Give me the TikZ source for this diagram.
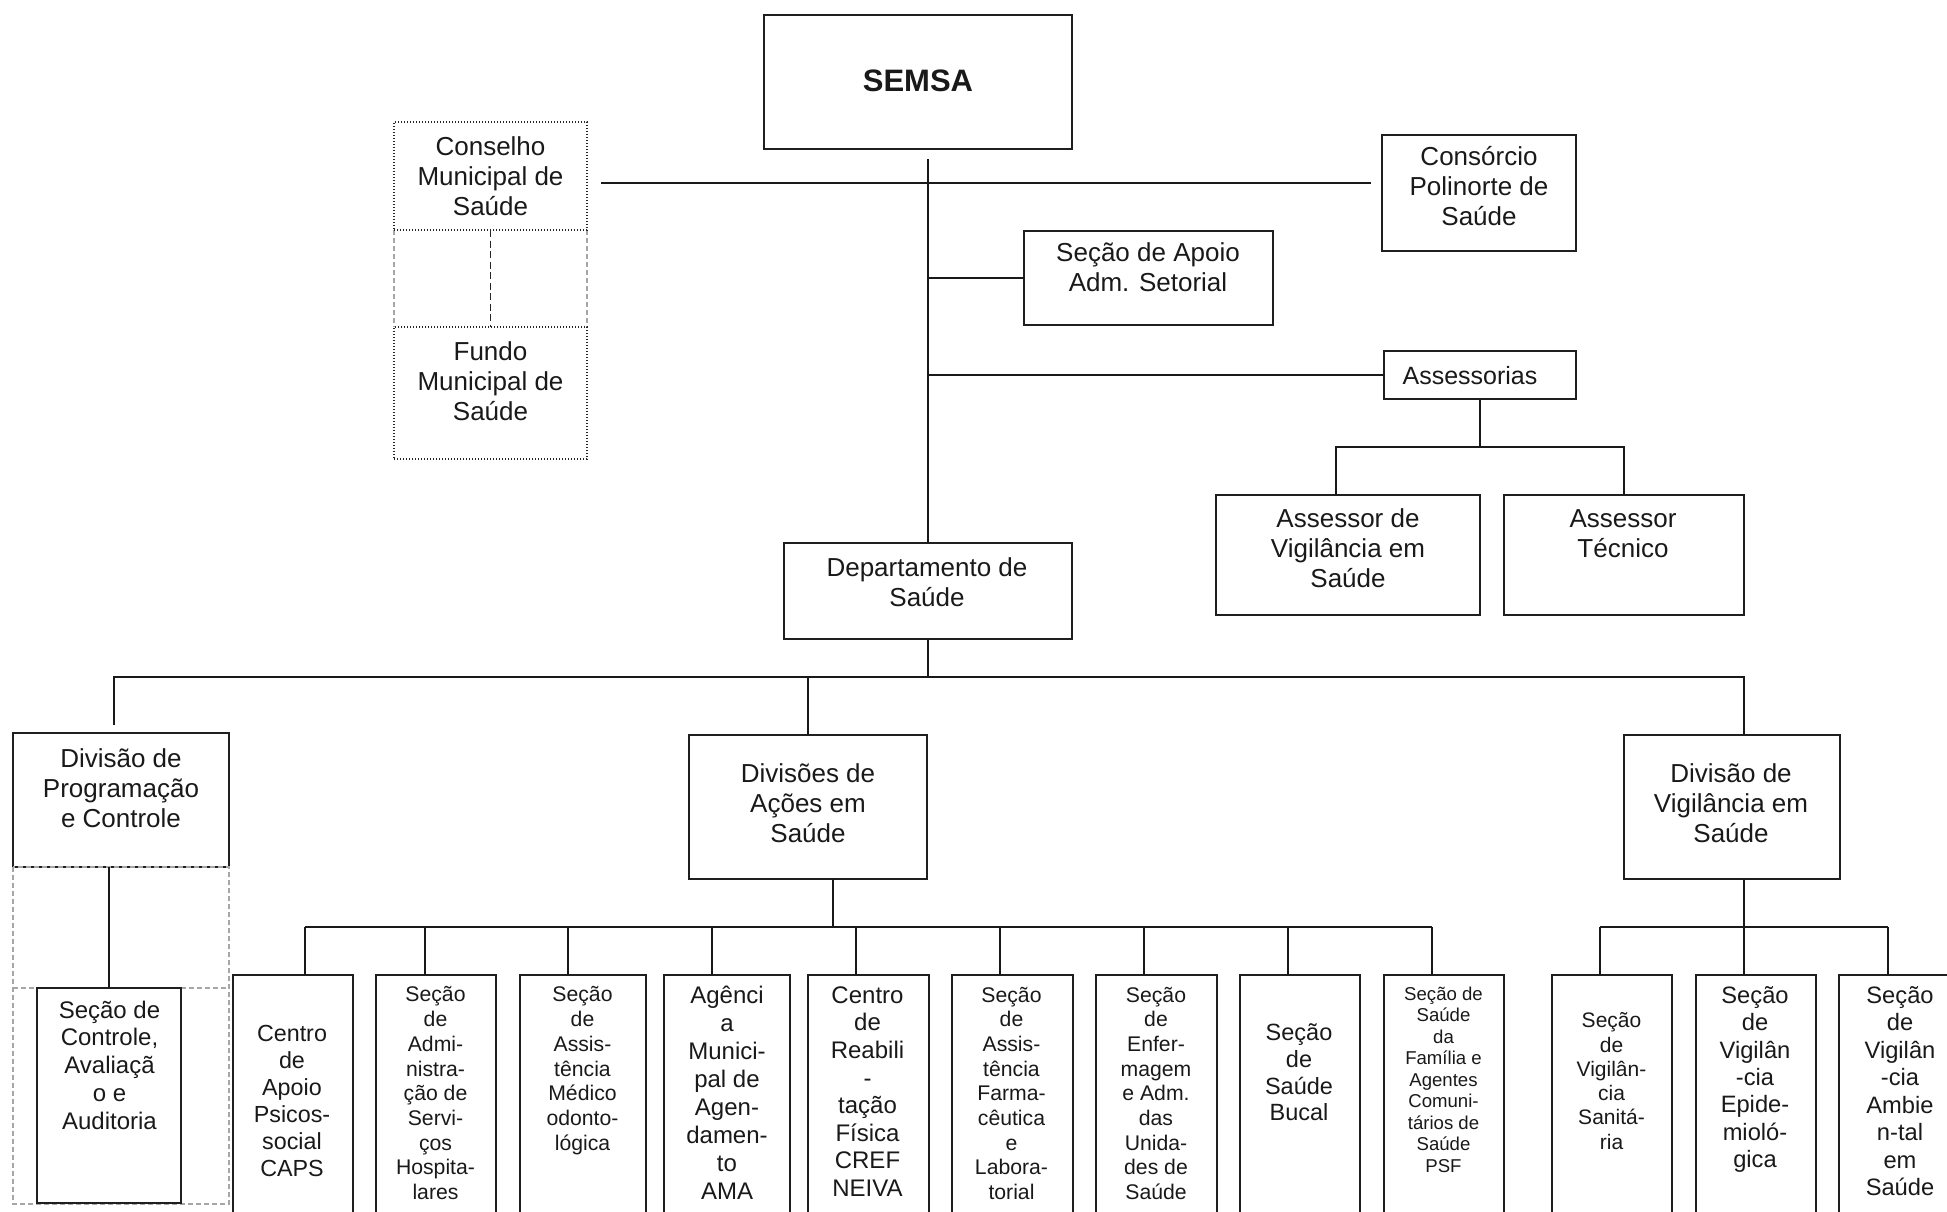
\documentclass[tikz,border=0pt]{standalone}
\usepackage{fontspec}
\setmainfont{Liberation Sans}
\usetikzlibrary{fit}
\newcommand\myfs[2]{\fontsize{#1}{#2}\selectfont}
\begin{document}
\begin{tikzpicture}[x=1pt,y=-1pt,
  box/.style={draw=black!88, line width=2pt, inner sep=0pt, outer sep=0pt},
  dotbox/.style={draw=black!85, line width=1.4pt, dash pattern=on 1.3pt off 1.7pt, inner sep=0pt, outer sep=0pt},
  graydash/.style={draw=black!35, line width=1.4pt, dash pattern=on 5pt off 3pt},
  blackdash/.style={draw=black!85, line width=1.6pt, dash pattern=on 7pt off 3.5pt},
  link/.style={draw=black!90, line width=2pt},
  txt/.style={align=center, inner sep=0pt, outer sep=0pt, text=black!90,
    execute at begin node=\strut, execute at end node=\strut},
  f26/.style={font=\myfs{26}{30}},
  f24/.style={font=\myfs{24}{27.8}},
  f23/.style={font=\myfs{23.3}{27}},
  f21/.style={font=\myfs{21.2}{24.7}},
]
\clip (0,0) rectangle (1947,1211);

% ---- top level ----
\node[box, fit={(764,15) (1072,149)}] (semsa) {};
\node[txt, font=\bfseries\myfs{31}{36}] (t-semsa) at (918,84.5) {SEMSA};

\draw[graydash] (394,230) -- (394,327) (587,230) -- (587,327);
\node[dotbox, fit={(394,122) (587,230)}] (cons) {};
\node[dotbox, fit={(394,327) (587,459)}] (fundo) {};
\draw[blackdash] (cons.south) -- (fundo.north);
\node[txt, f26] (t-cons) at (490.5,180.5) {Conselho\\Municipal de\\Saúde};
\node[txt, f26] (t-fundo) at (490.5,385.6) {Fundo\\Municipal de\\Saúde};

\node[box, fit={(1382,135) (1576,251)}] (consorcio) {};
\node[txt, f26] (t-consorcio) at (1479,190.6) {Consórcio\\Polinorte de\\Saúde};

\node[box, fit={(1024,231) (1273,325)}] (apoio) {};
\node[txt, f26] (t-apoio) at (1148,272) {Seção de Apoio\\Adm. Setorial};

\node[box, fit={(1384,351) (1576,399)}] (assess) {};
\node[txt, font=\myfs{25}{29}] (t-assess) at (1470,378.2) {Assessorias};

\node[box, fit={(1216,495) (1480,615)}] (assvig) {};
\node[txt, f26] (t-assvig) at (1348,552.3) {Assessor de\\Vigilância em\\Saúde};
\node[box, fit={(1504,495) (1744,615)}] (asstec) {};
\node[txt, f26] (t-asstec) at (1623,537.6) {Assessor\\Técnico};

\node[box, fit={(784,543) (1072,639)}] (dep) {};
\node[txt, f26] (t-dep) at (927,586.4) {Departamento de\\Saúde};

% ---- divisions ----
\node[box, fit={(13,733) (229,867)}] (divprog) {};
\node[txt, f26] (t-divprog) at (121,792.3) {Divisão de\\Programação\\e Controle};
\node[box, fit={(689,735) (927,879)}] (divacoes) {};
\node[txt, f26] (t-divacoes) at (808,807.6) {Divisões de\\Ações em\\Saúde};
\node[box, fit={(1624,735) (1840,879)}] (divvig) {};
\node[txt, f26] (t-divvig) at (1731,807.1) {Divisão de\\Vigilância em\\Saúde};

\draw[graydash] (divprog.south west) rectangle (229,1204);
\draw[graydash] (13,988) -- (229,988);
\node[box, fit={(37,988) (181,1203)}] (secctrl) {};
\node[txt, f24] (t-secctrl) at (109.5,1069.1) {Seção de\\Controle,\\Avaliaçã\\o e\\Auditoria};

% ---- bottom row ----
\node[box, fit={(233,975) (353,1260)}] (b1) {};
\node[txt, f23] (t-b1) at (292,1104.8) {Centro\\de\\Apoio\\Psicos-\\social\\CAPS};
\node[box, fit={(376,975) (496,1260)}] (b2) {};
\node[txt, f21] (t-b2) at (435.5,1096.8) {Seção\\de\\Admi-\\nistra-\\ção de\\Servi-\\ços\\Hospita-\\lares};
\node[box, fit={(520,975) (646,1260)}] (b3) {};
\node[txt, f21] (t-b3) at (582.5,1072.1) {Seção\\de\\Assis-\\tência\\Médico\\odonto-\\lógica};
\node[box, fit={(664,975) (790,1260)}] (b4) {};
\node[txt, font=\myfs{24}{28}] (t-b4) at (727,1097.4) {Agênci\\a\\Munici-\\pal de\\Agen-\\damen-\\to\\AMA};
\node[box, fit={(808,975) (929,1260)}] (b5) {};
\node[txt, font=\myfs{24}{27.6}] (t-b5) at (867.5,1095.7) {Centro\\de\\Reabili\\-\\tação\\Física\\CREF\\NEIVA};
\node[box, fit={(952,975) (1073,1260)}] (b6) {};
\node[txt, f21] (t-b6) at (1011.5,1096.9) {Seção\\de\\Assis-\\tência\\Farma-\\cêutica\\e\\Labora-\\torial};
\node[box, fit={(1096,975) (1217,1260)}] (b7) {};
\node[txt, f21] (t-b7) at (1156,1096.9) {Seção\\de\\Enfer-\\magem\\e Adm.\\das\\Unida-\\des de\\Saúde};
\node[box, fit={(1240,975) (1360,1260)}] (b8) {};
\node[txt, font=\myfs{23.5}{26.7}] (t-b8) at (1299,1076.5) {Seção\\de\\Saúde\\Bucal};
\node[box, fit={(1384,975) (1504,1260)}] (b9) {};
\node[txt, font=\myfs{18.6}{21.5}] (t-b9) at (1443.5,1082.7) {Seção de\\Saúde\\da\\Família e\\Agentes\\Comuni-\\tários de\\Saúde\\PSF};

\node[box, fit={(1552,975) (1672,1260)}] (b10) {};
\node[txt, font=\myfs{21}{24.3}] (t-b10) at (1611.5,1084.6) {Seção\\de\\Vigilân-\\cia\\Sanitá-\\ria};
\node[box, fit={(1696,975) (1816,1260)}] (b11) {};
\node[txt, font=\myfs{23.7}{27.3}] (t-b11) at (1755,1081.1) {Seção\\de\\Vigilân\\-cia\\Epide-\\mioló-\\gica};
\node[box, fit={(1839,975) (1961,1260)}] (b12) {};
\node[txt, font=\myfs{23.7}{27.5}] (t-b12) at (1900,1095.2) {Seção\\de\\Vigilân\\-cia\\Ambie\\n-tal\\em\\Saúde};

% ---- connectors ----
\coordinate (vtop) at (928,159);
\draw[link] (vtop) -- (dep.north);
\coordinate (hl) at (601,183);
\coordinate (hr) at (1371,183);
\draw[link] (hl) -- (hr);
\draw[link] (dep.north |- apoio.west) -- (apoio.west);
\draw[link] (dep.north |- assess.west) -- (assess.west);
\coordinate (ab) at (1480,447);
\draw[link] (assess.south) -- (ab);
\draw[link] ([xshift=-12pt]assvig.north) |- (asstec.north |- ab) -- (asstec.north);

\coordinate (db) at (928,677);
\draw[link] (dep.south) -- (db);
\draw[link] ([xshift=-7pt,yshift=8pt]divprog.north) |- ([xshift=12pt]divvig.north |- db) -- ([xshift=12pt]divvig.north);
\draw[link] (divacoes.north |- db) -- (divacoes.north);
\draw[link] (secctrl.north |- divprog.south) -- (secctrl.north);

\coordinate (ab2) at (833,927);
\draw[link] (ab2 |- divacoes.south) -- (ab2);
\coordinate (c1) at (305,975);
\coordinate (c2) at (425,975);
\coordinate (c3) at (568,975);
\coordinate (c4) at (712,975);
\coordinate (c5) at (856,975);
\coordinate (c6) at (1000,975);
\coordinate (c7) at (1144,975);
\coordinate (c8) at (1288,975);
\coordinate (c9) at (1432,975);
\draw[link] (c1 |- ab2) -- (c9 |- ab2);
\foreach \i in {1,...,9} \draw[link] (c\i |- ab2) -- (c\i);

\coordinate (vb) at (1744,927);
\draw[link] (vb |- divvig.south) -- (vb);
\coordinate (v1) at (1600,975);
\coordinate (v2) at (1744,975);
\coordinate (v3) at (1888,975);
\draw[link] (v1 |- vb) -- (v3 |- vb);
\foreach \i in {1,2,3} \draw[link] (v\i |- vb) -- (v\i);
\end{tikzpicture}
\end{document}
